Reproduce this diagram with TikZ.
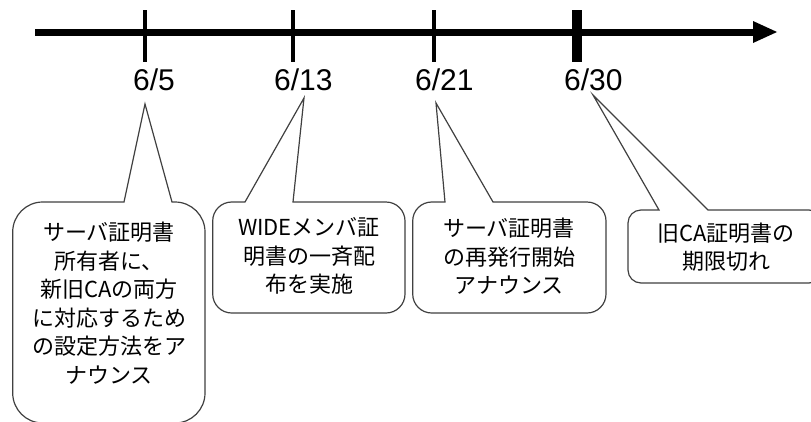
\documentclass[tikz,border=0pt]{standalone}
\usepackage{fontspec}
\setmainfont{Liberation Sans}
\newfontfamily\jpfont{Noto Sans CJK JP}
\definecolor{outl}{RGB}{64,64,64}
\newcommand\mycallout[9]{%
  \draw[cbox] (#1+#5,#2) -- (#6,#2) -- (#8,#9) -- (#7,#2) -- (#3-#5,#2)
    arc[start angle=-90,end angle=0,radius=#5] -- (#3,#4-#5)
    arc[start angle=0,end angle=90,radius=#5] -- (#1+#5,#4)
    arc[start angle=90,end angle=180,radius=#5] -- (#1,#2+#5)
    arc[start angle=180,end angle=270,radius=#5] -- cycle;}
\tikzset{
  cbox/.style={draw=outl,line width=1.2pt,fill=white},
  datelbl/.style={anchor=base west,inner sep=0pt,font=\fontsize{30}{30}\selectfont},
  boxtext/.style={align=center,inner sep=0pt,font=\jpfont\fontsize{22}{28.5}\selectfont},
  tickthin/.style={line width=4pt},
  tickthick/.style={line width=10pt},
}
\begin{document}
\begin{tikzpicture}[x=1pt,y=-1pt]
\useasboundingbox (0,0) rectangle (811,421);
\clip (0,0) rectangle (811,421);
% timeline
\coordinate (s) at (35,32);
\coordinate (e) at (753,32);
\draw[line width=7pt] (s) -- (e);
\fill (753,21) -- (777,32) -- (753,43) -- cycle;
\draw[tickthin] (145,10) -- (145,62);
\draw[tickthin] (293,10) -- (293,62);
\draw[tickthin] (434,10) -- (434,62);
\draw[tickthick] (577,10) -- (577,62);
\node[datelbl] (d1) at (133,90) {6/5};
\node[datelbl] (d2) at (274,90) {6/13};
\node[datelbl] (d3) at (415,90) {6/21};
\node[datelbl] (d4) at (564,90) {6/30};
% callouts
\mycallout{12.7}{202}{205}{423}{30}{124}{172}{145}{104}
\mycallout{212.7}{202}{405}{313}{19}{245}{293}{304}{98}
\mycallout{412.7}{202}{606}{313}{19}{445}{493}{436}{103}
\mycallout{628}{210}{822}{283}{13}{659}{708}{593}{95}
\node[boxtext] (b1) at (109,303) {サーバ証明書\\所有者に、\\新旧CAの両方\\に対応するため\\の設定方法をア\\ナウンス};
\node[boxtext] (b2) at (309,256) {WIDEメンバ証\\明書の一斉配\\布を実施};
\node[boxtext] (b3) at (509,256.5) {サーバ証明書\\の再発行開始\\アナウンス};
\node[boxtext] (b4) at (726,247) {旧CA証明書の\\期限切れ};
\end{tikzpicture}
\end{document}
